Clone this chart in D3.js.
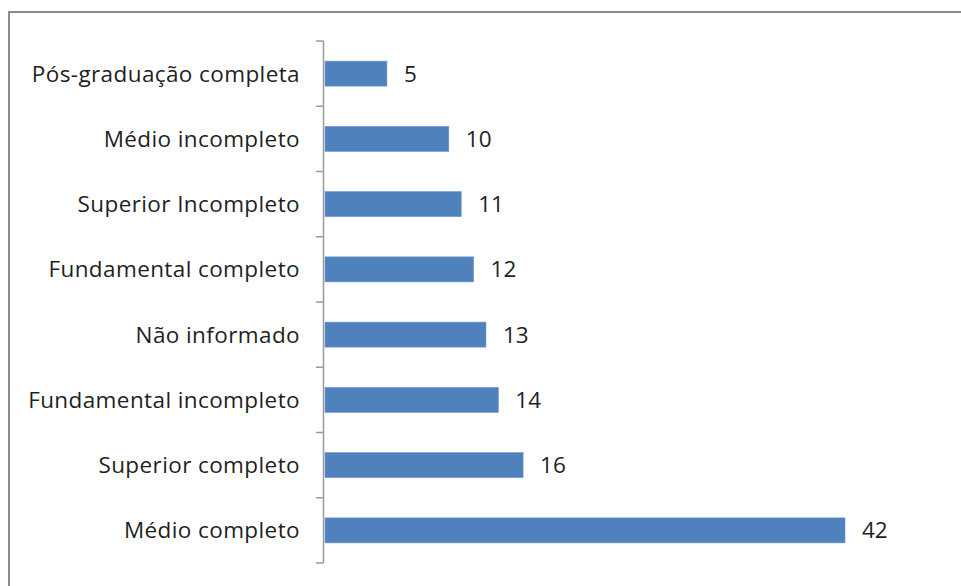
<!DOCTYPE html>
<html><head><meta charset="utf-8">
<script src="https://cdn.jsdelivr.net/npm/d3@7"></script>
<style>body{margin:0;background:#fff}svg{display:block}</style>
</head><body>
<script>
const categories = ["Pós-graduação completa","Médio incompleto","Superior Incompleto","Fundamental completo","Não informado","Fundamental incompleto","Superior completo","Médio completo"];
const values = [5,10,11,12,13,14,16,42];

const W=961,H=586;
const svg=d3.select("body").append("svg").attr("width",W).attr("height",H);
svg.append("rect").attr("width",W).attr("height",H).attr("fill","#fff");
// outer frame
svg.append("path").attr("d",`M9,${H+2}V12H${W+2}`).attr("fill","none").attr("stroke","#8a8a8a").attr("stroke-width",2);

const y=d3.scaleBand().domain(categories).range([41,563]).paddingInner(0.617).paddingOuter(0.3085);
const x=d3.scaleLinear().domain([0,42]).range([325,845]);

// axis line and ticks
const axisX=323.5;
const g=svg.append("g");
g.append("line").attr("x1",axisX).attr("x2",axisX).attr("y1",41).attr("y2",563).attr("stroke","#9a9a9a").attr("stroke-width",1.5);
const bounds=d3.range(categories.length+1).map(i=>41+i*(563-41)/categories.length);
g.selectAll("line.t").data(bounds).join("line").attr("class","t")
 .attr("x1",316).attr("x2",axisX).attr("y1",d=>d).attr("y2",d=>d).attr("stroke","#9a9a9a").attr("stroke-width",1.5);

svg.selectAll("rect.bar").data(values).join("rect").attr("class","bar")
 .attr("x",x(0)).attr("y",(d,i)=>y(categories[i])).attr("width",d=>x(d)-x(0)).attr("height",y.bandwidth())
 .attr("fill","#4F81BD").attr("stroke","#6c95c8").attr("stroke-width",0.6);

const font="'Open Sans', sans-serif";
svg.selectAll("text.cat").data(categories).join("text").attr("class","cat")
 .attr("x",300).attr("y",d=>y(d)+y.bandwidth()/2).attr("dy","0.36em").attr("text-anchor","end")
 .attr("font-family",font).attr("font-size",22.5).attr("letter-spacing",0.4).attr("fill","#1f1f1f").text(d=>d);

svg.selectAll("text.val").data(values).join("text").attr("class","val")
 .attr("x",d=>x(d)+17).attr("y",(d,i)=>y(categories[i])+y.bandwidth()/2).attr("dy","0.36em")
 .attr("font-family",font).attr("font-size",22.5).attr("fill","#1f1f1f").text(d=>d);
</script>
</body></html>
